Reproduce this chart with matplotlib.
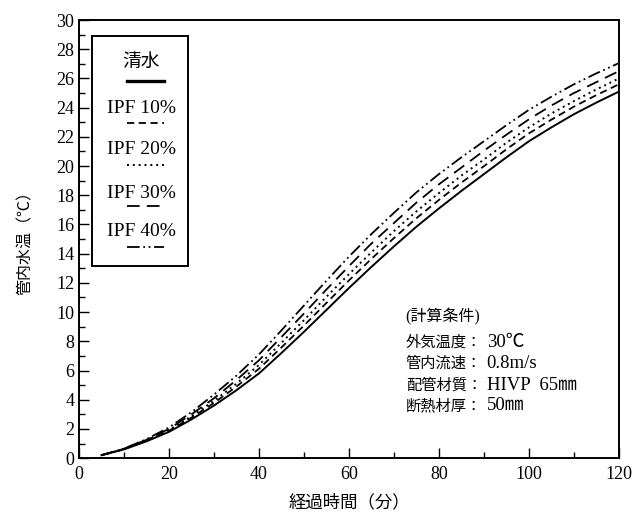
import matplotlib.pyplot as plt
from matplotlib.lines import Line2D
from matplotlib.patches import Rectangle
from matplotlib.ticker import MultipleLocator

plt.rcParams['font.family'] = ['Liberation Serif', 'Noto Sans CJK JP']

# elapsed time (min)
minutes = [5, 10, 15, 20, 25, 30, 35, 40, 45, 50, 55, 60,
           65, 70, 75, 80, 85, 90, 95, 100, 105, 110, 115, 120]

# water temperature inside pipe (deg C)
water = [0.2, 0.6, 1.15, 1.8, 2.65, 3.6, 4.65, 5.8, 7.2, 8.65, 10.15, 11.65,
         13.1, 14.5, 15.85, 17.1, 18.3, 19.45, 20.6, 21.7, 22.65, 23.55, 24.35, 25.1]
ipf10 = [0.2, 0.61, 1.19, 1.87, 2.77, 3.78, 4.9, 6.12, 7.58, 9.08, 10.63, 12.17,
         13.65, 15.07, 16.43, 17.68, 18.87, 19.99, 21.15, 22.24, 23.18, 24.07, 24.86, 25.6]
ipf20 = [0.2, 0.62, 1.22, 1.93, 2.87, 3.93, 5.1, 6.38, 7.9, 9.45, 11.05, 12.6,
         14.1, 15.55, 16.9, 18.15, 19.35, 20.45, 21.6, 22.65, 23.6, 24.45, 25.25, 26.0]
ipf30 = [0.2, 0.64, 1.25, 2.0, 3.0, 4.1, 5.35, 6.7, 8.3, 9.9, 11.55, 13.15,
         14.7, 16.1, 17.5, 18.75, 19.9, 21.05, 22.15, 23.2, 24.15, 25.0, 25.75, 26.5]
ipf40 = [0.2, 0.65, 1.3, 2.1, 3.15, 4.35, 5.65, 7.1, 8.75, 10.45, 12.15, 13.8,
         15.35, 16.8, 18.2, 19.45, 20.6, 21.7, 22.8, 23.85, 24.75, 25.6, 26.35, 27.05]

labels = ['清水', 'IPF 10%', 'IPF 20%', 'IPF 30%', 'IPF 40%']
series = [water, ipf10, ipf20, ipf30, ipf40]
styles = ['-', (0, (4, 2.5)), (0, (1, 2)), (0, (7, 4)), (0, (7, 2, 1, 2, 1, 2))]
widths = [1.4, 1.3, 1.4, 1.3, 1.3]

# calculation conditions: item name and value
cond_names = ['外気温度：', '管内流速：', '配管材質：', '断熱材厚：']
cond_values = ['30℃', '0.8m/s', 'HIVP  65㎜', '50㎜']

fig = plt.figure(figsize=(6.33, 5.2), dpi=100)
ax = fig.add_axes([0.1248, 0.119, 0.853, 0.8425])

for y, ls, lw in zip(series, styles, widths):
    ax.plot(minutes, y, color='black', linestyle=ls, linewidth=lw)

ax.set_xlim(0, 120)
ax.set_ylim(0, 30)
ax.xaxis.set_major_locator(MultipleLocator(20))
ax.xaxis.set_minor_locator(MultipleLocator(10))
ax.yaxis.set_major_locator(MultipleLocator(2))
ax.yaxis.set_minor_locator(MultipleLocator(1))
ax.tick_params(which='both', direction='in', labelsize=13, width=1.0)
ax.tick_params(which='major', length=7)
ax.tick_params(which='minor', length=4)
ax.tick_params(axis='x', pad=6)
for s in ax.spines.values():
    s.set_linewidth(1.4)

ax.set_xlabel('経過時間（分）', fontsize=12.5, labelpad=8)
ax.set_ylabel('管内水温（℃）', fontsize=11.5, labelpad=16)

# hand-drawn legend box: label text above a short line sample
box = Rectangle((0.024, 0.438), 0.178, 0.526, transform=ax.transAxes,
                fill=False, edgecolor='black', linewidth=1.4)
ax.add_patch(box)
text_y = [0.903, 0.797, 0.705, 0.605, 0.518]
line_y = [0.860, 0.766, 0.668, 0.576, 0.482]
for lab, ls, lw, ty, ly in zip(labels, styles, widths, text_y, line_y):
    ax.text(0.115, ty, lab, transform=ax.transAxes, ha='center', va='center',
            fontsize=13.5 if lab == '清水' else 14)
    ax.add_line(Line2D([0.088, 0.158], [ly, ly], transform=ax.transAxes,
                       color='black', linestyle=ls,
                       linewidth=2.4 if lab == '清水' else lw))

ax.text(0.605, 0.322, '(計算条件)', transform=ax.transAxes, ha='left',
        va='center', fontsize=11.5)
cond_y = [0.265, 0.215, 0.166, 0.12]
for name, val, cy in zip(cond_names, cond_values, cond_y):
    ax.text(0.605, cy, name, transform=ax.transAxes, ha='left', va='center',
            fontsize=11)
    ax.text(0.755, cy, val, transform=ax.transAxes, ha='left', va='center',
            fontsize=13.5)

fig.savefig('out.png', dpi=100)
